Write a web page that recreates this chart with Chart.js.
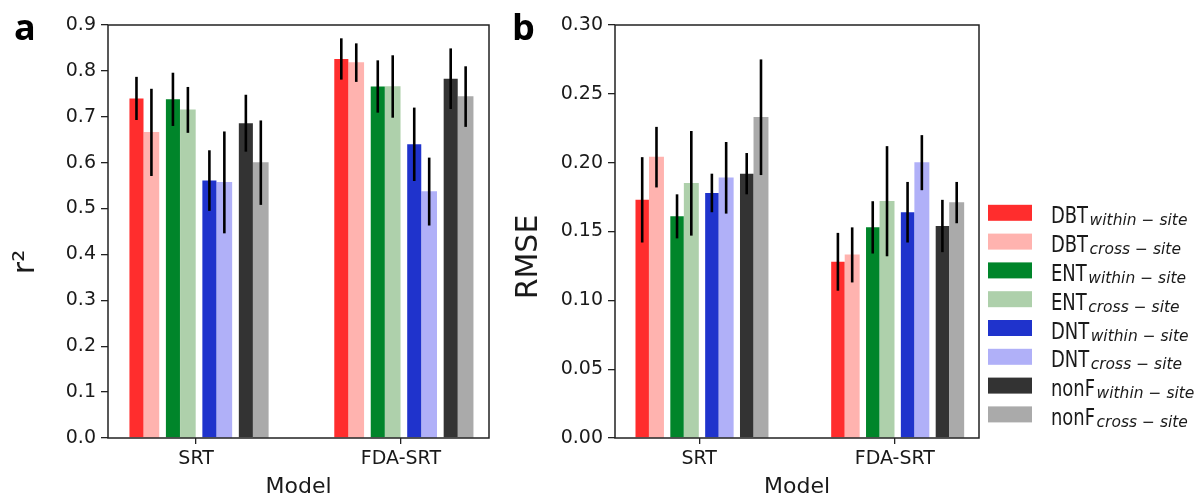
<!DOCTYPE html>
<html>
<head>
<meta charset="utf-8">
<script src="https://cdn.jsdelivr.net/npm/chart.js@4.4.0/dist/chart.umd.min.js"></script>
<style>
    body { margin: 0; background: #fff; }
    #wrap { position: relative; width: 1201px; height: 500px; }
    #chartA { position: absolute; left: 0; top: 0; }
    #chartB { position: absolute; left: 500px; top: 0; }
</style>
</head>
<body>
<div id="wrap">
    <canvas id="chartA" width="500" height="500"></canvas>
    <canvas id="chartB" width="701" height="500"></canvas>
</div>
<script>
// Categories and series
const models = ['SRT', 'FDA-SRT'];
const forestTypes = ['DBT', 'ENT', 'DNT', 'nonF'];
const siteTypes = ['within − site', 'cross − site'];

// Values per series: DBT within, DBT cross, ENT within, ENT cross, DNT within, DNT cross, nonF within, nonF cross
const r2SRT      = [0.740, 0.666, 0.738, 0.715, 0.561, 0.557, 0.686, 0.600];
const r2SRTErr   = [0.047, 0.095, 0.058, 0.050, 0.066, 0.111, 0.062, 0.092];
const r2FDA      = [0.826, 0.818, 0.766, 0.766, 0.640, 0.537, 0.783, 0.744];
const r2FDAErr   = [0.045, 0.042, 0.057, 0.068, 0.080, 0.074, 0.066, 0.066];

const rmseSRT    = [0.173, 0.204, 0.161, 0.185, 0.178, 0.189, 0.192, 0.233];
const rmseSRTErr = [0.031, 0.022, 0.016, 0.038, 0.014, 0.026, 0.015, 0.042];
const rmseFDA    = [0.128, 0.133, 0.153, 0.172, 0.164, 0.200, 0.154, 0.171];
const rmseFDAErr = [0.021, 0.020, 0.019, 0.040, 0.022, 0.020, 0.019, 0.015];

const r2Ticks   = [0, 0.1, 0.2, 0.3, 0.4, 0.5, 0.6, 0.7, 0.8, 0.9];
const rmseTicks = [0, 0.05, 0.10, 0.15, 0.20, 0.25, 0.30];

const seriesColors = ['#ff2d2d', '#ffb3af', '#00852a', '#aed0ab', '#1f33cc', '#b0b0f8', '#333333', '#aaaaaa'];

// bar layout around each model position
const pairStart = -0.291;
const pairStep = 0.178;
const crossShift = 0.073;

const FONT = '"DejaVu Sans", sans-serif';
const INK = '#1a1a1a';

function buildDatasets(srt, fda) {
    return seriesColors.map((color, i) => {
        const pair = Math.floor(i / 2);
        const cross = i % 2;
        const shift = pairStart + pair * pairStep + cross * crossShift;
        return {
            label: forestTypes[pair] + ' ' + siteTypes[cross],
            legendMain: forestTypes[pair],
            legendSub: siteTypes[cross],
            data: [srt[i], fda[i]].map((v, m) => ({ x: m + shift, y: v })),
            backgroundColor: color,
            borderWidth: 0,
            grouped: false,
            categoryPercentage: 1,
            barPercentage: cross ? 1 : 0.94
        };
    });
}

// vertical error lines through the bar centres
const errorBars = {
    id: 'errorBars',
    afterDatasetsDraw(chart, args, opts) {
        const ctx = chart.ctx;
        const y = chart.scales.y;
        ctx.save();
        ctx.strokeStyle = '#000';
        ctx.lineWidth = 2.6;
        chart.data.datasets.forEach((ds, i) => {
            chart.getDatasetMeta(i).data.forEach((bar, m) => {
                const v = ds.data[m].y;
                const e = opts.errors[m][i];
                ctx.beginPath();
                ctx.moveTo(bar.x, y.getPixelForValue(v - e));
                ctx.lineTo(bar.x, y.getPixelForValue(v + e));
                ctx.stroke();
            });
        });
        ctx.restore();
    }
};

// box around the plot area
const frame = {
    id: 'frame',
    afterDraw(chart) {
        const { ctx, chartArea: a } = chart;
        ctx.save();
        ctx.strokeStyle = '#222';
        ctx.lineWidth = 1.5;
        ctx.strokeRect(a.left, a.top, a.right - a.left, a.bottom - a.top);
        ctx.restore();
    }
};

// panel letter and rotated y title
const panelText = {
    id: 'panelText',
    afterDraw(chart, args, opts) {
        const ctx = chart.ctx;
        ctx.save();
        ctx.fillStyle = '#000';
        ctx.font = 'bold 36px "Open Sans", sans-serif';
        ctx.textBaseline = 'alphabetic';
        ctx.fillText(opts.letter, opts.letterX, 40);
        ctx.fillStyle = INK;
        ctx.translate(opts.titleX, opts.titleY);
        ctx.rotate(-Math.PI / 2);
        ctx.font = '30px ' + FONT;
        ctx.textAlign = 'center';
        ctx.fillText(opts.title, 0, 0);
        ctx.restore();
    }
};

// legend with subscripted site labels
const subLegend = {
    id: 'subLegend',
    afterDraw(chart, args, opts) {
        if (!opts.display) return;
        const ctx = chart.ctx;
        ctx.save();
        chart.data.datasets.forEach((ds, i) => {
            const cy = opts.top + i * opts.rowHeight;
            ctx.fillStyle = ds.backgroundColor;
            ctx.fillRect(opts.left, cy - 8, 44, 16);
            ctx.fillStyle = INK;
            ctx.font = '23px ' + FONT;
            const mainW = ctx.measureText(ds.legendMain).width * 0.78;
            ctx.save();
            ctx.translate(opts.left + 63, cy + 10.5);
            ctx.scale(0.78, 1);
            ctx.fillText(ds.legendMain, 0, 0);
            ctx.restore();
            ctx.font = 'italic 15.5px ' + FONT;
            ctx.fillText(ds.legendSub, opts.left + 63 + mainW + 1.5, cy + 12.5);
        });
        ctx.restore();
    }
};

function makeChart(id, cfg) {
    return new Chart(document.getElementById(id), {
        type: 'bar',
        data: { datasets: buildDatasets(cfg.srt, cfg.fda) },
        options: {
            responsive: false,
            animation: false,
            layout: { padding: { top: 25, right: cfg.padRight, left: 0, bottom: 0 } },
            scales: {
                x: {
                    type: 'linear',
                    offset: false,
                    min: -0.43,
                    max: 1.43,
                    afterBuildTicks: s => { s.ticks = models.map((m, i) => ({ value: i })); },
                    afterFit: s => { s.height = 62; },
                    grid: { display: true, offset: false, drawOnChartArea: false, drawTicks: true, tickLength: 6, color: '#222', lineWidth: 1.3 },
                    border: { display: false },
                    ticks: {
                        callback: v => models[v],
                        font: { family: FONT, size: 19 },
                        color: INK,
                        padding: 4,
                        maxRotation: 0
                    },
                    title: {
                        display: true,
                        text: 'Model',
                        font: { family: FONT, size: 22 },
                        color: INK,
                        padding: { top: 0, bottom: 0 }
                    }
                },
                y: {
                    min: 0,
                    max: cfg.ticks[cfg.ticks.length - 1],
                    afterBuildTicks: s => { s.ticks = cfg.ticks.map(v => ({ value: v })); },
                    afterFit: s => { s.width = cfg.axisWidth; },
                    grid: { display: true, drawOnChartArea: false, drawTicks: true, tickLength: 7, color: '#222', lineWidth: 1.3 },
                    border: { display: false },
                    ticks: {
                        callback: v => v.toFixed(cfg.decimals),
                        font: { family: FONT, size: 19 },
                        color: INK,
                        padding: 5
                    }
                }
            },
            plugins: {
                legend: { display: false },
                tooltip: { enabled: false },
                errorBars: { errors: [cfg.srtErr, cfg.fdaErr] },
                panelText: cfg.panel,
                subLegend: cfg.legend
            }
        },
        plugins: [errorBars, frame, panelText, subLegend]
    });
}

makeChart('chartA', {
    srt: r2SRT, fda: r2FDA, srtErr: r2SRTErr, fdaErr: r2FDAErr,
    ticks: r2Ticks, decimals: 1, axisWidth: 108, padRight: 11,
    panel: { letter: 'a', letterX: 14, title: 'r²', titleX: 34, titleY: 262 },
    legend: { display: false }
});

makeChart('chartB', {
    srt: rmseSRT, fda: rmseFDA, srtErr: rmseSRTErr, fdaErr: rmseFDAErr,
    ticks: rmseTicks, decimals: 2, axisWidth: 115, padRight: 222,
    panel: { letter: 'b', letterX: 12, title: 'RMSE', titleX: 37, titleY: 257 },
    legend: { display: true, left: 488, top: 212.8, rowHeight: 28.8 }
});
</script>
</body>
</html>
